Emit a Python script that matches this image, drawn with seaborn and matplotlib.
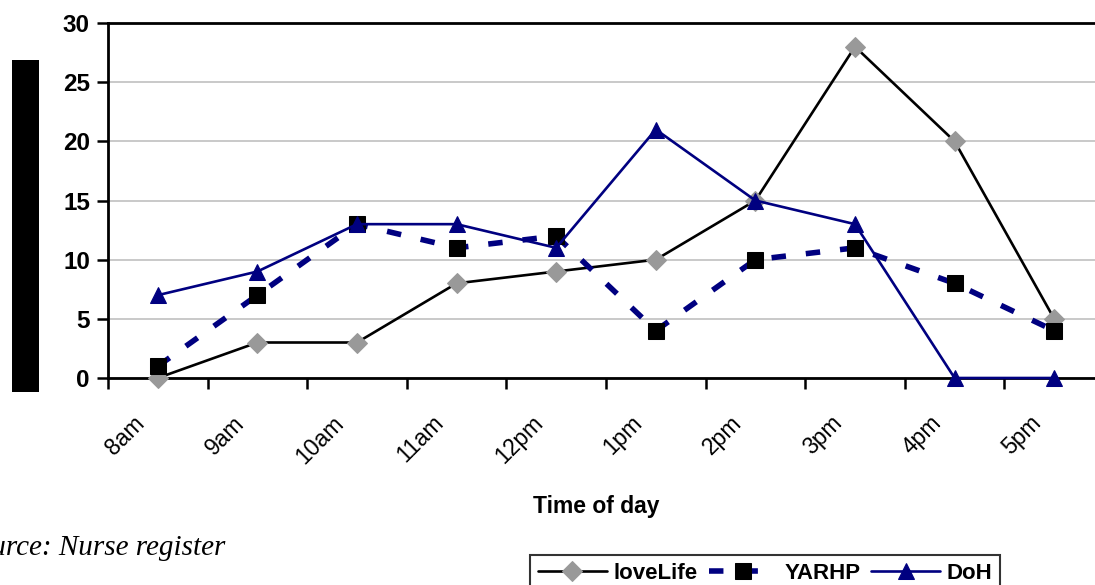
import numpy as np
import pandas as pd
import matplotlib
matplotlib.use("Agg")
import matplotlib.pyplot as plt
import matplotlib.transforms as mtransforms
from matplotlib.patches import Rectangle
import seaborn as sns

categories = ["8am", "9am", "10am", "11am", "12pm", "1pm", "2pm", "3pm", "4pm", "5pm"]
lovelife = [0, 3, 3, 8, 9, 10, 15, 28, 20, 5]
yarhp = [1, 7, 13, 11, 12, 4, 10, 11, 8, 4]
doh = [7, 9, 13, 13, 11, 21, 15, 13, 0, 0]
series_names = ["loveLife", "YARHP", "DoH"]
y_ticks = [0, 5, 10, 15, 20, 25, 30]

sns.set_theme(style="white")
plt.rcParams['font.family'] = ['Liberation Sans', 'DejaVu Sans']
plt.rcParams['text.color'] = 'black'
plt.rcParams['xtick.color'] = 'black'
plt.rcParams['ytick.color'] = 'black'

fig = plt.figure(figsize=(10.95, 5.85), dpi=100)
W, H = 1095, 585
ax = fig.add_axes([108 / W, 1 - 378 / H, (1104 - 108) / W, (378 - 23) / H])

pos = np.arange(len(categories))
df = pd.DataFrame({"pos": pos, "cat": categories,
                   "loveLife": lovelife, "YARHP": yarhp, "DoH": doh})

navy = "#000080"
grey = "#999999"

sns.lineplot(data=df, x="pos", y="loveLife", ax=ax, color="black", lw=1.9,
             marker="D", markersize=10, markerfacecolor=grey, markeredgecolor=grey,
             label=series_names[0], zorder=3)
sns.lineplot(data=df, x="pos", y="YARHP", ax=ax, color=navy, lw=4,
             dashes=(2.6, 3.6), marker="s", markersize=11, markerfacecolor="black",
             markeredgecolor="black", label=series_names[1], zorder=4)
sns.lineplot(data=df, x="pos", y="DoH", ax=ax, color=navy, lw=1.9,
             marker="^", markersize=12, markerfacecolor=navy, markeredgecolor=navy,
             label=series_names[2], zorder=5)

ax.lines[1].set_dash_capstyle("butt")
for ln in ax.lines:
    ln.set_clip_on(False)

ax.set_xlim(-0.5, len(categories) - 0.5)
ax.set_ylim(0, 30)
ax.set_yticks(y_ticks)
ax.set_yticklabels([str(v) for v in y_ticks], fontsize=17.5, fontweight="bold")
ax.yaxis.grid(True, color="#c0c0c0", lw=1.2)
ax.set_axisbelow(True)

ax.set_xticks(pos)
ax.set_xticklabels(categories, rotation=45, ha="right", rotation_mode="anchor",
                   fontsize=16.5)
ax.set_xticks(np.arange(-0.5, len(categories), 1.0), minor=True)
ax.tick_params(axis="x", which="major", length=0, pad=24)
ax.tick_params(axis="x", which="minor", length=8, width=1.8, color="black", direction="out", bottom=True)
ax.tick_params(axis="y", length=8, width=1.8, color="black", direction="out", left=True, pad=5)
offset = mtransforms.ScaledTranslation(-25 / 100, 0, fig.dpi_scale_trans)
for lab in ax.get_xticklabels():
    lab.set_transform(lab.get_transform() + offset)

for s in ["left", "bottom", "top"]:
    ax.spines[s].set_visible(True)
    ax.spines[s].set_color("black")
    ax.spines[s].set_linewidth(2)
ax.spines["right"].set_visible(False)

ax.set_xlabel("")
ax.set_ylabel("")
fig.text(596 / W, 1 - 507 / H, "Time of day", ha="center", va="center",
         fontsize=16.5, fontweight="bold")

fig.patches.append(Rectangle((12 / W, 1 - 392 / H), 27 / W, 332 / H,
                             transform=fig.transFigure, facecolor="black",
                             edgecolor="none"))

fig.text(225 / W, 1 - 555 / H, "Source: Nurse register", ha="right", va="baseline",
         fontsize=21, style="italic", family=["Liberation Serif", "DejaVu Serif"])

ax.get_legend().remove()
handles, labels = ax.get_legend_handles_labels()
leg = fig.legend(handles, labels, loc="upper left", bbox_to_anchor=(530 / W, 1 - 555 / H),
                 ncol=3, frameon=True, fancybox=False, edgecolor="black",
                 prop={"weight": "bold", "size": 16},
                 handlelength=3.1, handletextpad=0.3, columnspacing=0.5,
                 borderpad=0.35, borderaxespad=0)
leg.get_frame().set_linewidth(1.5)

fig.savefig("out.png", dpi=100)
